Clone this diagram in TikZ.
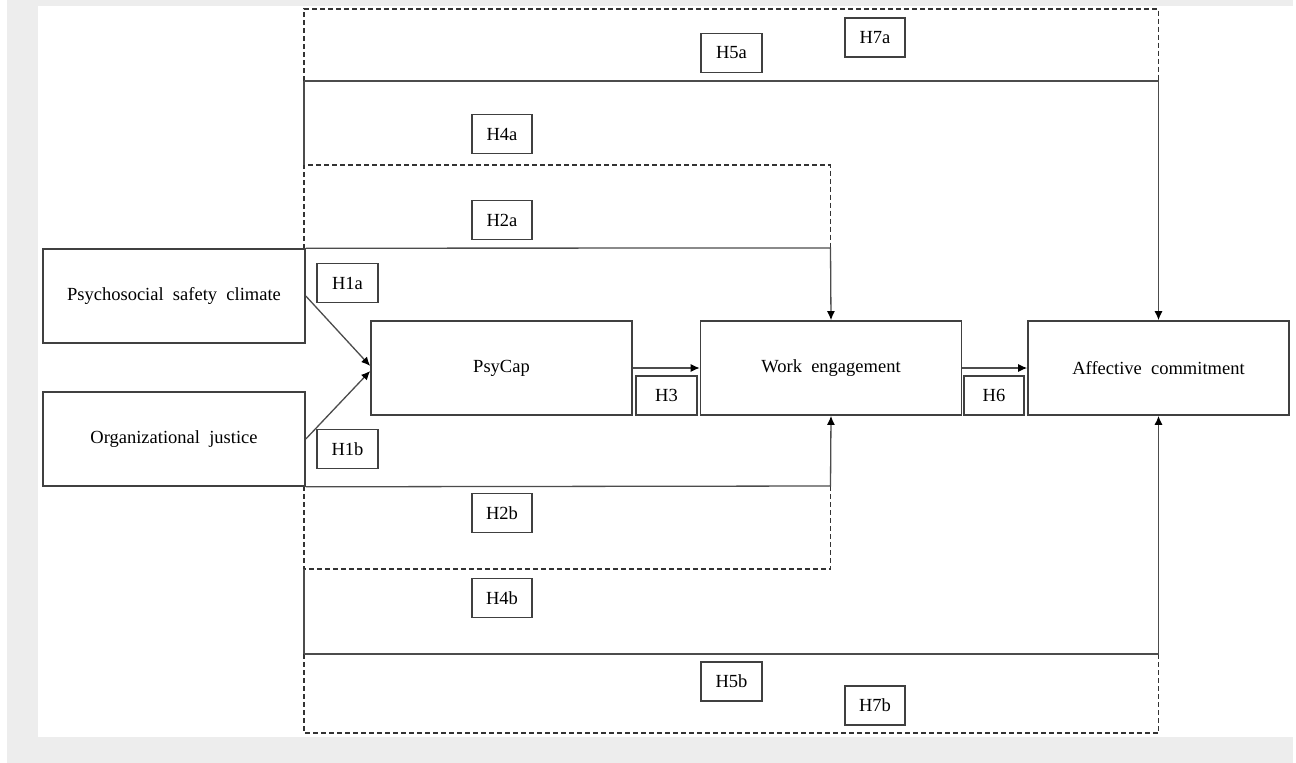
\documentclass[tikz,border=0pt]{standalone}
\usepackage{fontspec}
\setmainfont{Liberation Serif}
\usetikzlibrary{arrows.meta,calc}
\begin{document}
\begin{tikzpicture}[x=1pt,y=-1pt,
  bigbox/.style={draw=black!75,line width=1.6pt,fill=white,inner sep=0pt,minimum height=94pt,font=\fontsize{18.5}{22}\selectfont},
  hbox/.style={draw=black!75,line width=1.6pt,fill=white,inner sep=0pt,minimum width=60pt,minimum height=39pt,font=\fontsize{18.5}{22}\selectfont},
  conn/.style={draw=black!70,line width=1.3pt},
  dconn/.style={draw=black!80,line width=1.4pt,dash pattern=on 5pt off 3pt},
  tip/.style={-{Latex[length=9pt,width=8pt,color=black]}}
]
% background
\fill[black!7] (0,0) rectangle (1296,763);
\fill[white] (0,0) rectangle (7,763);
\fill[white] (38,6) rectangle (1293,737);
\fill[white] (1293,0) rectangle (1296,763);
\useasboundingbox (0,0) rectangle (1296,763);

% coordinates of the routing lines
\coordinate (a4) at (304,165);
\coordinate (a5) at (304,81);
\coordinate (a7) at (304,9);
\coordinate (b4) at (304,569);
\coordinate (b5) at (304,654);
\coordinate (b7) at (304,733);
\coordinate (w4a) at (830.5,165);
\coordinate (w2a) at (830.5,248);
\coordinate (w4b) at (830.5,569);
\coordinate (w2b) at (830.5,486);
\coordinate (r5a) at (1158.5,81);
\coordinate (r7a) at (1158.5,9);
\coordinate (r5b) at (1158.5,654);
\coordinate (r7b) at (1158.5,733);

% dashed paths
\draw[dconn] (a5) -- (a7) -- (r7a) -- (r5a);
\draw[dconn] (b5) -- (b7) -- (r7b) -- (r5b);
\draw[dconn] (304,249) -- (a4) -- (w4a) -- (w2a);
\draw[dconn] (304,486) -- (b4) -- (w4b) -- (w2b);

% main boxes
\node[bigbox,minimum width=262pt] (psc) at (174,296) {Psychosocial\ \ safety\ \ climate};
\node[bigbox,minimum width=262pt] (oj) at (174,439) {Organizational\ \ justice};
\node[bigbox,minimum width=261pt] (psycap) at (501.5,368) {PsyCap};
\node[bigbox,minimum width=261pt] (we) at (831,368) {Work\ \ engagement};
\node[bigbox,minimum width=261pt] (ac) at (1158.5,368) {Affective\ \ commitment};

% solid paths
\draw[conn] (a4) -- (a5);
\draw[conn] (b4) -- (b5);
\draw[conn,tip] (a5) -- (r5a) -- (ac.north);
\draw[conn,tip] (b5) -- (r5b) -- (ac.south);
\draw[conn,tip] (psc.north east) -- (w2a) -- (we.north);
\draw[conn,tip] (oj.south east) -- (w2b) -- (we.south);
\draw[conn,tip] (psc.east) -- ($(psycap.west)+(0,-2)$);
\draw[conn,tip] (oj.east) -- ($(psycap.west)+(0,3)$);
\draw[conn,tip] (psycap.east) -- (we.west);
\draw[conn,tip] (we.east) -- (ac.west);

% hypothesis labels
\node[hbox,minimum width=61pt] (h1a) at (347.5,283) {H1a};
\node[hbox,minimum width=61pt] (h1b) at (347.5,449) {H1b};
\node[hbox,minimum width=61pt] (h3) at (666.5,395.5) {H3};
\node[hbox,minimum width=60pt] (h6) at (994,395.5) {H6};
\node[hbox] (h2a) at (502,220) {H2a};
\node[hbox] (h4a) at (502,134) {H4a};
\node[hbox] (h2b) at (502,513) {H2b};
\node[hbox] (h4b) at (502,598) {H4b};
\node[hbox,minimum width=61pt] (h5a) at (731.5,53) {H5a};
\node[hbox] (h7a) at (875,37.5) {H7a};
\node[hbox,minimum width=61pt] (h5b) at (731.5,681.5) {H5b};
\node[hbox] (h7b) at (875,705.5) {H7b};
\end{tikzpicture}
\end{document}
